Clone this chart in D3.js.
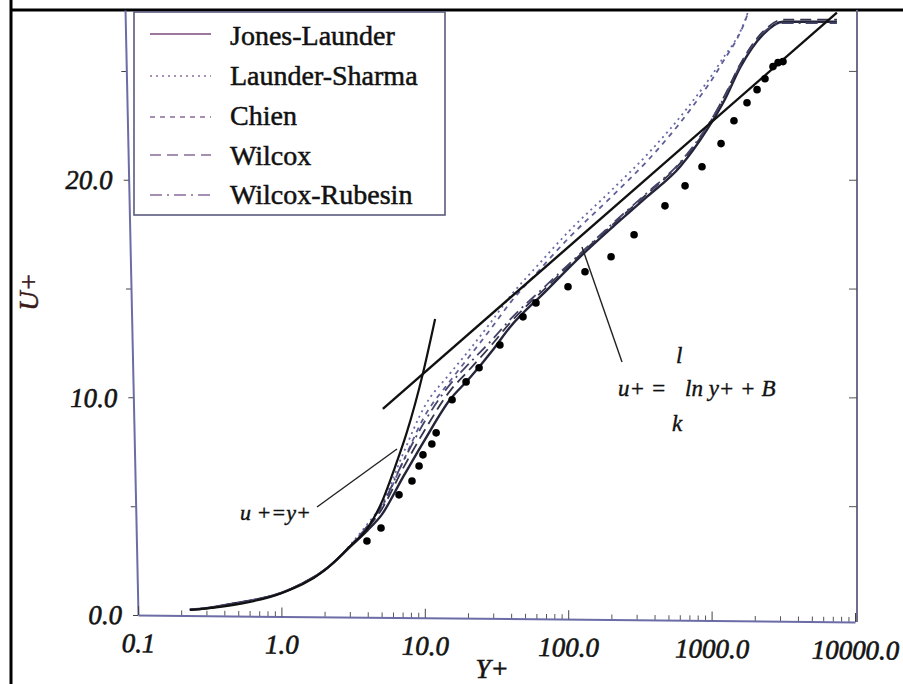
<!DOCTYPE html>
<html>
<head>
<meta charset="utf-8">
<script src="https://cdn.jsdelivr.net/npm/d3@7"></script>
<style>
  html, body { margin: 0; padding: 0; background: #fff; }
  svg { display: block; }
  text { font-family: "Liberation Serif", "Times New Roman", serif; }
</style>
</head>
<body>
<script>
// ---------------- data ----------------
const xTickValues = [0.1, 1, 10, 100, 1000, 10000];
const xTickLabels = ["0.1", "1.0", "10.0", "100.0", "1000.0", "10000.0"];
const yTickValues = [0, 10, 20];
const yTickLabels = ["0.0", "10.0", "20.0"];
const yMinorTicks = [5, 15, 25];
const rightTicks = [5, 10, 15, 20, 25];

const seriesNames = ["Jones-Launder", "Launder-Sharma", "Chien", "Wilcox", "Wilcox-Rubesin"];

const jonesLaunder = [[0.23,0.25],[0.3,0.31],[0.44,0.5],[0.7,0.74],[1.0,1.02],[1.4,1.45],[1.86,1.92],[2.4,2.5],[3.0,3.12],
  [4,3.9],[5,4.6],[7,6.3],[10,8.05],[15,9.9],[20,10.8],[30,12.2],[39,13.2],[69,14.85],[121,16.46],[205,17.84],
  [355,19.22],[603,20.6],[929,22.3],[1240,23.7],[1580,25.15],[2280,26.67],[3150,27.26],[7480,27.26]];
const launderSharma = [[0.23,0.25],[0.3,0.31],[0.44,0.5],[0.7,0.74],[1.0,1.02],[1.4,1.45],[1.86,1.92],[2.4,2.5],[3.0,3.2],
  [4,4.2],[5,5.06],[7,7.36],[10,9.6],[15,11.1],[20,12.1],[28.5,13.4],[40,14.7],[60,16.0],[100,17.6],
  [199,19.5],[372,21.3],[706,23.45],[1145,25.38],[1795,27.72],[1850,28.0]];
const chien = [[0.23,0.25],[0.3,0.31],[0.44,0.5],[0.7,0.74],[1.0,1.02],[1.4,1.45],[1.86,1.92],[2.4,2.5],[3.0,3.17],
  [4,4.1],[5,4.95],[7,7.0],[10,9.15],[15,10.75],[20,11.8],[28.5,13.1],[40,14.4],[60,15.7],[100,17.3],
  [199,19.2],[372,21.0],[706,23.2],[1145,25.2],[1820,27.8],[1880,28.1]];
const wilcox = [[0.23,0.25],[0.3,0.31],[0.44,0.5],[0.7,0.74],[1.0,1.02],[1.4,1.45],[1.86,1.92],[2.4,2.5],[3.0,3.14],
  [4,4.0],[5,4.85],[7,6.7],[10,8.5],[15,10.3],[20,11.2],[30,12.5],[39,13.4],[69,15.0],[121,16.55],[205,17.95],
  [355,19.35],[603,20.75],[929,22.4],[1240,23.9],[1580,25.3],[2280,26.8],[3150,27.36],[7480,27.36]];
const wilcoxRubesin = [[0.23,0.25],[0.3,0.31],[0.44,0.5],[0.7,0.74],[1.0,1.02],[1.4,1.45],[1.86,1.92],[2.4,2.5],[3.0,3.15],
  [4,4.1],[5,5.0],[7,7.0],[10,8.9],[15,10.6],[20,11.5],[30,12.7],[39,13.55],[69,15.1],[121,16.6],[205,18.0],
  [355,19.4],[603,20.8],[929,22.45],[1240,23.85],[1580,25.25],[2280,26.75],[3100,27.2],[7480,27.2]];

const experiment = [[3.95,3.40],[4.95,4.00],[6.61,5.52],[8.14,6.16],[9.12,6.85],[9.71,7.36],[11.2,7.86],[12.0,8.37],
  [15.5,9.89],[19.4,10.71],[23.9,11.36],[33.4,12.41],[48.4,13.70],[59.6,14.34],[99.7,15.08],[131,15.77],[199,16.46],
  [288,17.47],[473,18.80],[653,19.72],[857,20.60],[1164,21.66],[1432,22.71],[1766,23.54],[2075,24.14],[2357,24.64],
  [2680,25.20],[2904,25.38],[3147,25.43]];

const linearLaw = [[0.23,0.23],[0.5,0.5],[1,1],[2,2.05],[3,3.15],[4,4.0],[5.1,5.3],[6.2,6.8],[7.5,8.4],[9.7,11.1],[11.8,13.6]];
const logLaw = [[5.1,9.47],[7480,27.68]];

// ---------------- styles ----------------
const seriesData = [jonesLaunder, launderSharma, chien, wilcox, wilcoxRubesin];
const seriesDash = [null, "2,4", "5,5", "11,6", "12,5,2,5"];
const seriesColor = ["#24243a", "#6a6aa8", "#5e5e98", "#34344e", "#44446a"];

const W = 903, H = 684;
const svg = d3.select("body").append("svg").attr("width", W).attr("height", H);
svg.append("rect").attr("width", W).attr("height", H).attr("fill", "#fff");

const x = d3.scaleLog().domain([0.1, 10000]).range([138, 855]);
const y = d3.scaleLinear().domain([0, 27.8]).range([615, 10]);

// frame
svg.append("line").attr("x1", 11).attr("y1", 0).attr("x2", 11).attr("y2", H).attr("stroke", "#000").attr("stroke-width", 3);
svg.append("line").attr("x1", 10).attr("y1", 10).attr("x2", W).attr("y2", 10).attr("stroke", "#000").attr("stroke-width", 3);

const axisColor = "#6c6ca6";
function styleLabels(sel) {
  sel.selectAll(".tick text").attr("font-size", 27).attr("font-style", "italic")
    .attr("fill", "#141414").attr("stroke", "#141414").attr("stroke-width", 0.6)
    .attr("font-family", "'Liberation Serif', serif");
}

// y axis (skewed like the scan)
const yT = "translate(138,615) skewX(1.23) translate(0,-615)";
const yAxMinor = svg.append("g").attr("transform", yT);
yAxMinor.call(d3.axisLeft(y).tickValues(yMinorTicks).tickSizeInner(5).tickSizeOuter(0).tickFormat(""));
yAxMinor.select("path.domain").remove();
yAxMinor.selectAll(".tick line").attr("stroke", "#444");
const yAx = svg.append("g").attr("transform", yT);
yAx.call(d3.axisLeft(y).tickValues(yTickValues).tickSizeInner(5).tickSizeOuter(0).tickPadding(11)
  .tickFormat((d, i) => yTickLabels[i]));
yAx.select("path.domain").attr("stroke", axisColor).attr("stroke-width", 2);
yAx.selectAll(".tick line").attr("stroke", "#444");
styleLabels(yAx);

// x axis (skewed like the scan)
const minorX = [];
[0.1, 1, 10, 100, 1000].forEach(d => { for (let k = 2; k <= 9; k++) minorX.push(d * k); });
const xT = "translate(138,615) skewY(0.558) translate(-138,0)";
const xAxMinor = svg.append("g").attr("transform", xT);
xAxMinor.call(d3.axisBottom(x).tickValues(minorX).tickSizeInner(-5).tickSizeOuter(0).tickFormat(""));
xAxMinor.select("path.domain").remove();
xAxMinor.selectAll(".tick line").attr("stroke", "#555");
const xAx = svg.append("g").attr("transform", xT);
xAx.call(d3.axisBottom(x).tickValues(xTickValues).tickSizeInner(-9).tickSizeOuter(0).tickPadding(18)
  .tickFormat((d, i) => xTickLabels[i]));
xAx.select("path.domain").attr("stroke", axisColor).attr("stroke-width", 2);
xAx.selectAll(".tick line").attr("stroke", "#444");
styleLabels(xAx);

// right axis
const rAx = svg.append("g").attr("transform", "translate(857,0)");
rAx.call(d3.axisRight(y).tickValues(rightTicks).tickSizeInner(-8).tickSizeOuter(0).tickFormat(""));
rAx.select("path.domain").attr("stroke", "#6e6e8a").attr("stroke-width", 2).attr("d", `M0,${y(27.8)}V622`);
rAx.selectAll(".tick line").attr("stroke", "#555");

// axis titles
svg.append("text").attr("transform", "translate(38,292) rotate(-90)")
  .attr("text-anchor", "middle").attr("font-size", 27).attr("font-style", "italic")
  .attr("fill", "#3a1818").attr("stroke", "#3a1818").attr("stroke-width", 0.5).text("U+");
svg.append("text").attr("x", 492).attr("y", 678).attr("text-anchor", "middle")
  .attr("font-size", 27).attr("font-style", "italic").attr("fill", "#141414")
  .attr("stroke", "#141414").attr("stroke-width", 0.6).text("Y+");

// clip
svg.append("clipPath").attr("id", "plotclip").append("rect")
  .attr("x", 126).attr("y", 11.5).attr("width", 731).attr("height", 612);
const plot = svg.append("g").attr("clip-path", "url(#plotclip)");

const line = d3.line().x(d => x(d[0])).y(d => y(d[1])).curve(d3.curveMonotoneX);

// model curves
seriesData.forEach((s, i) => {
  plot.append("path").datum(s).attr("d", line).attr("fill", "none")
    .attr("stroke", seriesColor[i]).attr("stroke-width", i === 0 ? 2.4 : 1.8)
    .attr("stroke-dasharray", seriesDash[i]);
});

// reference laws
plot.append("path").datum(linearLaw).attr("d", line).attr("fill", "none").attr("stroke", "#111").attr("stroke-width", 2.2);
plot.append("path").datum(logLaw).attr("d", d3.line().x(d => x(d[0])).y(d => y(d[1])))
  .attr("fill", "none").attr("stroke", "#111").attr("stroke-width", 2.4);

// experimental dots
plot.selectAll("circle.exp").data(experiment).join("circle").attr("class", "exp")
  .attr("cx", d => x(d[0])).attr("cy", d => y(d[1])).attr("r", 3.8).attr("fill", "#000");

// annotations
const ann = svg.append("g").attr("font-style", "italic").attr("fill", "#111")
  .attr("stroke", "#111").attr("stroke-width", 0.4);
ann.append("text").attr("x", 240).attr("y", 520).attr("font-size", 22).text("u +=y+");
svg.append("line").attr("x1", 317).attr("y1", 507).attr("x2", 397).attr("y2", 449)
  .attr("stroke", "#222").attr("stroke-width", 1.4);
ann.append("text").attr("x", 618).attr("y", 396).attr("font-size", 23).text("u+ =");
ann.append("text").attr("x", 685).attr("y", 396).attr("font-size", 23).text("ln y+ + B");
ann.append("text").attr("x", 676).attr("y", 363).attr("font-size", 23).text("l");
ann.append("text").attr("x", 672).attr("y", 431).attr("font-size", 23).text("k");
svg.append("line").attr("x1", 622).attr("y1", 362).attr("x2", 582).attr("y2", 247)
  .attr("stroke", "#222").attr("stroke-width", 1.4);

// legend
const leg = svg.append("g");
leg.append("rect").attr("x", 134).attr("y", 12).attr("width", 311).attr("height", 203)
  .attr("fill", "#fff").attr("stroke", "#5a5a7e").attr("stroke-width", 1.6);
const sampleY = [34, 76, 117, 155, 195];
const textY = [45, 85, 125, 165, 204];
seriesNames.forEach((n, i) => {
  leg.append("line").attr("x1", 150).attr("x2", 211).attr("y1", sampleY[i]).attr("y2", sampleY[i])
    .attr("stroke", i === 0 ? "#7a4a7a" : "#8a6a9a").attr("stroke-width", 1.6)
    .attr("stroke-dasharray", seriesDash[i]);
  leg.append("text").attr("x", 230).attr("y", textY[i]).attr("font-size", 28)
    .attr("fill", "#111").attr("stroke", "#111").attr("stroke-width", 0.5).text(n);
});
</script>
</body>
</html>
